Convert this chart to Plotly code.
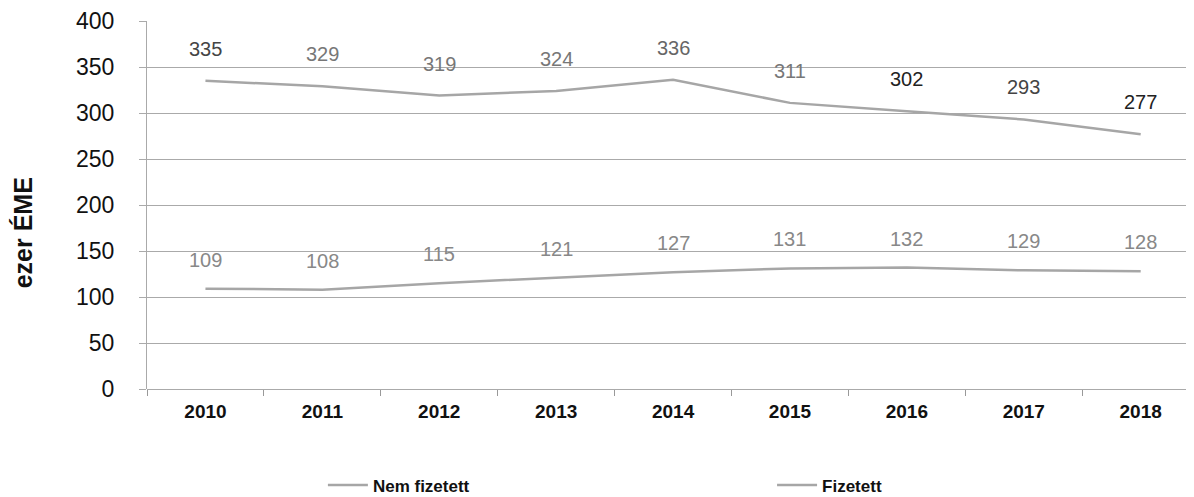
import plotly.graph_objects as go

years = ["2010", "2011", "2012", "2013", "2014", "2015", "2016", "2017", "2018"]
nem_fizetett = [335, 329, 319, 324, 336, 311, 302, 293, 277]
fizetett = [109, 108, 115, 121, 127, 131, 132, 129, 128]
y_ticks = [0, 50, 100, 150, 200, 250, 300, 350, 400]

upper_label_colors = ["#444", "#777", "#777", "#777", "#666", "#777", "#222", "#444", "#222"]
lower_label_colors = ["#888"] * 9

FONT = "Liberation Sans, Arial"

fig = go.Figure()
fig.add_trace(go.Scatter(x=years, y=nem_fizetett, mode="lines", name="Nem fizetett",
                         line=dict(color="#a6a6a6", width=2.5), legend="legend"))
fig.add_trace(go.Scatter(x=years, y=fizetett, mode="lines", name="Fizetett",
                         line=dict(color="#a6a6a6", width=2.5), legend="legend2"))

for i, (y, c) in enumerate(zip(nem_fizetett, upper_label_colors)):
    fig.add_annotation(x=i, y=y, text=str(y), showarrow=False, yshift=32,
                       font=dict(size=20, color=c, family=FONT))
for i, (y, c) in enumerate(zip(fizetett, lower_label_colors)):
    fig.add_annotation(x=i, y=y, text=str(y), showarrow=False, yshift=29,
                       font=dict(size=20, color=c, family=FONT))

# y-axis title
fig.add_annotation(xref="paper", yref="paper", x=-0.134, y=0.425, text="<b>ezer ÉME</b>",
                   textangle=-90, showarrow=False,
                   font=dict(size=25, color="#111", family=FONT))

legend_font = dict(size=17, color="#111", family=FONT, weight="bold")
fig.update_layout(
    width=1186, height=497,
    margin=dict(l=139, r=0, t=11, b=116),
    plot_bgcolor="white", paper_bgcolor="white",
    font=dict(family=FONT, color="#111"),
    showlegend=True,
    legend=dict(x=0.168, y=-0.262, xanchor="left", yanchor="middle", font=legend_font,
                itemwidth=40, bgcolor="rgba(0,0,0,0)"),
    legend2=dict(x=0.597, y=-0.262, xanchor="left", yanchor="middle", font=legend_font,
                 itemwidth=40, bgcolor="rgba(0,0,0,0)"),
)
fig.update_xaxes(type="category", range=[-0.5, 8.456], tickson="boundaries", ticks="outside",
                 ticklen=6, tickangle=0, tickcolor="#999", showline=False, showgrid=False,
                 ticklabelstandoff=9,
                 tickfont=dict(size=19, family=FONT, color="#111", weight="bold"))
fig.update_yaxes(range=[0, 400], tickvals=y_ticks, showgrid=True, gridcolor="#aaaaaa",
                 gridwidth=1, showline=True, linecolor="#aaaaaa", linewidth=1,
                 zeroline=True, zerolinecolor="#aaaaaa", zerolinewidth=1,
                 ticks="outside", ticklen=7, tickcolor="#aaaaaa",
                 ticklabelstandoff=20, ticklabeloverflow="allow",
                 tickfont=dict(size=23, color="#111", family=FONT))

fig.write_html("out.html")
